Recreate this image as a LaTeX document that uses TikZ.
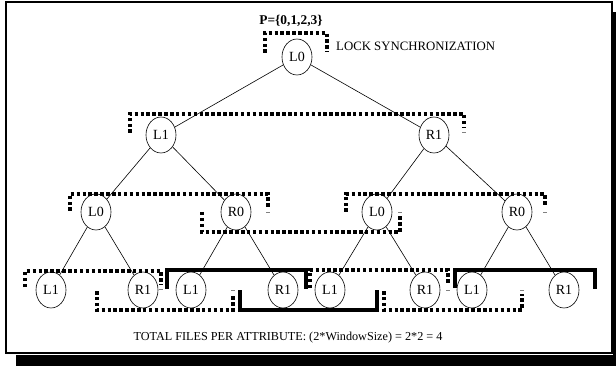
\documentclass[tikz,border=0pt]{standalone}
\usepackage{fontspec}
\setmainfont{Liberation Serif}
\usetikzlibrary{shapes.geometric}
\begin{document}
\begin{tikzpicture}[x=1pt,y=-1pt,
  tnode/.style={ellipse,draw,line width=0.6pt,minimum width=30pt,minimum height=36pt,inner sep=0pt,font=\fontsize{14}{14}\selectfont},
  edge/.style={line width=0.6pt},
  dotbr/.style={line width=4pt,dash pattern=on 3.5pt off 2.4pt},
  solidbr/.style={line width=4pt},
  tick/.style={line width=0.6pt,gray},
  lbl/.style={inner sep=0pt,font=\fontsize{12.8}{13}\selectfont}]
\useasboundingbox (0,0) rectangle (616,366);
% frame with drop shadow
\fill (16,355) rectangle (616,366);
\fill (613,12) rectangle (616,366);
\draw[line width=2pt] (6,2) rectangle (612,353);

% tree nodes
\node[tnode] (r)   at (297,57)  {L0};
\node[tnode] (a)   at (161,135) {L1};
\node[tnode] (b)   at (434,135) {R1};
\node[tnode] (aa)  at (96,212)  {L0};
\node[tnode] (ab)  at (236,212) {R0};
\node[tnode] (ba)  at (377,212) {L0};
\node[tnode] (bb)  at (517,212) {R0};
\node[tnode] (l1)  at (51,290)  {L1};
\node[tnode] (l2)  at (143,290) {R1};
\node[tnode] (l3)  at (191,290) {L1};
\node[tnode] (l4)  at (283,290) {R1};
\node[tnode] (l5)  at (330,290) {L1};
\node[tnode] (l6)  at (425,290) {R1};
\node[tnode] (l7)  at (472,290) {L1};
\node[tnode] (l8)  at (564,290) {R1};

% connectors
\draw[edge] (r) -- (a);  \draw[edge] (r) -- (b);
\draw[edge] (a) -- (aa); \draw[edge] (a) -- (ab);
\draw[edge] (b) -- (ba); \draw[edge] (b) -- (bb);
\draw[edge] (aa) -- (l1); \draw[edge] (aa) -- (l2);
\draw[edge] (ab) -- (l3); \draw[edge] (ab) -- (l4);
\draw[edge] (ba) -- (l5); \draw[edge] (ba) -- (l6);
\draw[edge] (bb) -- (l7); \draw[edge] (bb) -- (l8);

% labels
\node[lbl,font=\fontsize{13.4}{14}\selectfont\bfseries] (p) at (291,21) {P=\{0,1,2,3\}};
\node[lbl,anchor=west] (lock) at (336,46) {LOCK SYNCHRONIZATION};
\node[lbl,font=\fontsize{12.2}{13}\selectfont] (total) at (288,338) {TOTAL FILES PER ATTRIBUTE: (2*WindowSize) = 2*2 = 4};

% lock brackets
\draw[dotbr] (265,53) -- (265,33) -- (327,33) -- (327,52);
\draw[dotbr] (130,133) -- (130,114) -- (464,114) -- (464,128);
\draw[dotbr] (70,211) -- (70,194) -- (268,194) -- (268,207);
\draw[dotbr] (202,212) -- (202,232) -- (400,232) -- (400,216);
\draw[dotbr] (346,212) -- (346,194) -- (545,194) -- (545,207);
\draw[dotbr] (25,287) -- (25,271) -- (161,271) -- (161,285);
\draw[dotbr] (310,288) -- (310,270) -- (448,270) -- (448,285);
\draw[dotbr] (97,291) -- (97,310) -- (233,310) -- (233,294);
\draw[dotbr] (384,291) -- (384,310) -- (522,310) -- (522,294);
\draw[solidbr] (167,289) -- (167,270) -- (306,270) -- (306,289);
\draw[solidbr] (455,288) -- (455,270) -- (595,270) -- (595,289);
\draw[solidbr] (240,290) -- (240,310) -- (377,310) -- (377,290);

% small end marks
\draw[tick] (462,132) -- (466,132);
\draw[tick] (266,212) -- (270,212);
\draw[tick] (398,212) -- (402,212);
\draw[tick] (543,212) -- (547,212);
\draw[tick] (159,289) -- (163,289);
\draw[tick] (231,290) -- (235,290);
\draw[tick] (446,290) -- (450,290);
\draw[tick] (520,290) -- (524,290);
\end{tikzpicture}
\end{document}
